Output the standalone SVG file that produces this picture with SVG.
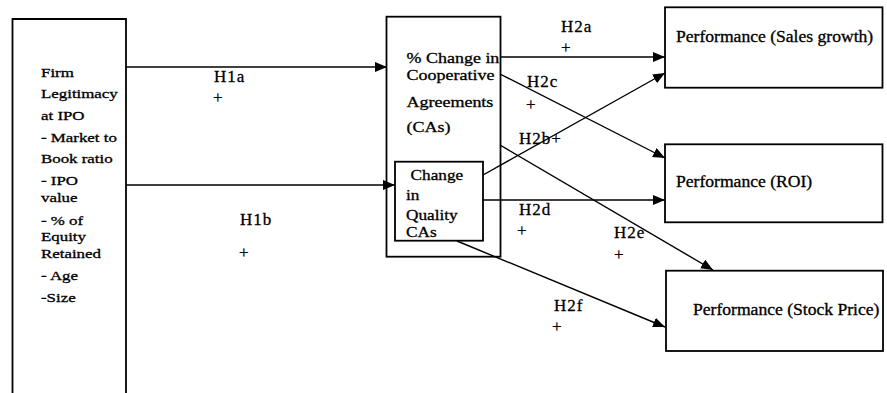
<svg xmlns="http://www.w3.org/2000/svg" width="887" height="393" viewBox="0 0 887 393">
<defs>
<style>
.box{fill:none;stroke:#000;stroke-width:1.8}
.con{fill:none;stroke:#000;stroke-width:1.4}
.t{font-family:"Liberation Serif","Times New Roman",serif;fill:#000;stroke:#000;stroke-width:0.3}
.sm{font-size:13.5px}
.md{font-size:15px}
.pf{font-size:16px}
.lb{font-size:17px;letter-spacing:1px}
</style>
<marker id="ah" markerUnits="userSpaceOnUse" markerWidth="14" markerHeight="12" refX="12" refY="5" orient="auto">
<path d="M0,0 L12,5 L0,10 Z" fill="#000"/>
</marker>
</defs>
<rect width="887" height="393" fill="#fff"/>
<g id="legitimacy">
<path class="box" d="M12.5,400 V19 H126 V400"/>
<g class="t sm" transform="translate(41,0) scale(1.25,1)">
<text x="0" y="77">Firm</text>
<text x="0" y="98">Legitimacy</text>
<text x="0" y="120">at IPO</text>
<text x="0" y="142">- Market  to</text>
<text x="0" y="163">Book ratio</text>
<text x="0" y="185">- IPO</text>
<text x="0" y="202">value</text>
<text x="0" y="225">- %  of</text>
<text x="0" y="241">Equity</text>
<text x="0" y="258">Retained</text>
<text x="0" y="280">- Age</text>
<text x="0" y="302">-Size</text>
</g>
</g>
<g id="cas">
<rect class="box" x="386.5" y="16.7" width="114" height="240"/>
<g class="t md" transform="translate(406.5,0) scale(1.2,1)">
<text x="0" y="63">% Change in</text>
<text x="0" y="80">Cooperative</text>
<text x="0" y="107">Agreements</text>
<text x="0" y="132">(CAs)</text>
</g>
</g>
<g id="quality">
<rect class="box" x="395" y="161.7" width="88" height="79" fill="#fff"/>
<g class="t md" transform="translate(406,0) scale(1.15,1)">
<text x="4" y="180">Change</text>
<text x="0" y="200">in</text>
<text x="0" y="220">Quality</text>
<text x="0" y="237">CAs</text>
</g>
</g>
<g id="sales">
<rect class="box" x="665" y="7.3" width="217.5" height="80.4"/>
<text class="t pf" transform="translate(676,42) scale(1.1,1)">Performance (Sales growth)</text>
</g>
<g id="roi">
<rect class="box" x="665" y="144.3" width="217.5" height="78"/>
<text class="t pf" transform="translate(676,187) scale(1.1,1)">Performance (ROI)</text>
</g>
<g id="stock">
<rect class="box" x="666" y="270.7" width="217" height="80.3"/>
<text class="t pf" transform="translate(693,315) scale(1.1,1)">Performance (Stock Price)</text>
</g>
<g id="connectors">
<path class="con" marker-end="url(#ah)" d="M126,67 H387"/>
<path class="con" marker-end="url(#ah)" d="M126,185 H395"/>
<path class="con" marker-end="url(#ah)" d="M500,57 H665"/>
<path class="con" marker-end="url(#ah)" d="M500,74 L665,158"/>
<path class="con" marker-end="url(#ah)" d="M483,175 L665,73"/>
<path class="con" marker-end="url(#ah)" d="M483,200 H665"/>
<path class="con" marker-end="url(#ah)" d="M500,145 L713,270"/>
<path class="con" marker-end="url(#ah)" d="M457,241 L665,327"/>
</g>
<g id="labels" class="t lb">
<text x="214" y="82">H1a</text>
<text x="213" y="103">+</text>
<text x="240" y="225">H1b</text>
<text x="239" y="258">+</text>
<text x="561" y="32">H2a</text>
<text x="561" y="53">+</text>
<text x="527" y="87">H2c</text>
<text x="526" y="110">+</text>
<text x="519" y="144">H2b+</text>
<text x="519" y="215">H2d</text>
<text x="517" y="236">+</text>
<text x="614" y="238">H2e</text>
<text x="614" y="260">+</text>
<text x="554" y="311">H2f</text>
<text x="552" y="332">+</text>
</g>
</svg>
